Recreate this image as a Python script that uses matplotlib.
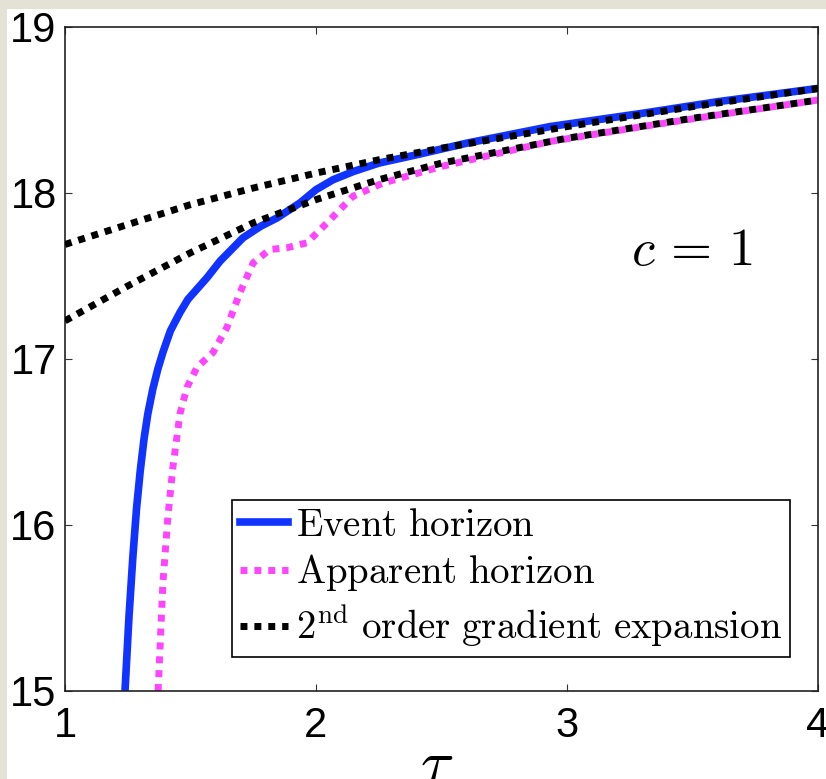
import matplotlib
matplotlib.use('Agg')
import matplotlib.pyplot as plt
from matplotlib.patches import Rectangle

plt.rcParams['mathtext.fontset'] = 'cm'
plt.rcParams['font.family'] = ['Liberation Sans', 'DejaVu Sans']

# event horizon
tau_event = [1.239, 1.255, 1.27, 1.285, 1.30, 1.315, 1.33, 1.35, 1.37, 1.39,
             1.42, 1.458, 1.49, 1.566, 1.618, 1.709, 1.78, 1.845, 1.936, 2.0,
             2.068, 2.15, 2.25, 2.4, 2.6, 2.932, 3.3, 3.6, 4.0]
r_event = [15.0, 15.45, 15.8, 16.1, 16.33, 16.52, 16.67, 16.82, 16.94, 17.04,
           17.17, 17.28, 17.36, 17.49, 17.59, 17.73, 17.80, 17.85, 17.94, 18.02,
           18.08, 18.13, 18.18, 18.23, 18.30, 18.40, 18.48, 18.55, 18.63]

# apparent horizon
tau_app = [1.371, 1.39, 1.41, 1.43, 1.458, 1.486, 1.526, 1.59, 1.645, 1.697,
           1.75, 1.817, 1.884, 1.964, 2.044, 2.147, 2.267, 2.5, 2.932, 3.3,
           3.6, 4.0]
r_app = [15.0, 15.65, 16.05, 16.35, 16.67, 16.83, 16.95, 17.04, 17.19, 17.40,
         17.58, 17.66, 17.67, 17.70, 17.82, 17.98, 18.06, 18.16, 18.31, 18.40,
         18.47, 18.56]

# 2nd order gradient expansion, event and apparent
tau_grad = [1.0, 1.25, 1.5, 1.75, 2.0, 2.25, 2.5, 3.0, 3.5, 4.0]
r_grad_ev = [17.69, 17.81, 17.93, 18.03, 18.12, 18.20, 18.27, 18.40, 18.52, 18.63]
r_grad_ap = [17.23, 17.44, 17.64, 17.82, 17.96, 18.08, 18.18, 18.33, 18.45, 18.56]

xticks = [1, 2, 3, 4]
yticks = [15, 16, 17, 18, 19]

W, H = 826, 779
fig = plt.figure(figsize=(W / 100, H / 100), dpi=100)
fig.patch.set_facecolor('#e4e2d4')
fig.patches.append(Rectangle((7 / W, 0), 1, 1 - 9 / H, transform=fig.transFigure,
                             facecolor='white', edgecolor='none', zorder=-5))

ax = fig.add_axes([65 / W, 1 - 691 / H, (818 - 65) / W, (691 - 27) / H])

dot = (0, (1, 1))
ax.plot(tau_event, r_event, color='#1133ff', lw=5.5, label='$\\mathrm{Event\\ horizon}$',
        zorder=2)
ax.plot(tau_app, r_app, color='#ff44ff', lw=5, ls=dot, dash_capstyle='butt',
        label='$\\mathrm{Apparent\\ horizon}$', zorder=2)
ax.plot(tau_grad, r_grad_ev, color='black', lw=5, ls=dot, dash_capstyle='butt',
        label='$\\mathrm{2^{nd}\\ order\\ gradient\\ expansion}$', zorder=3)
ax.plot(tau_grad, r_grad_ap, color='black', lw=5, ls=dot, dash_capstyle='butt',
        zorder=3)

ax.set_xlim(1, 4)
ax.set_ylim(15, 19)
ax.set_xticks(xticks)
ax.set_yticks(yticks)
ax.tick_params(direction='in', length=5, width=0.8, labelsize=30,
               top=True, right=True, color='#333333')
ax.tick_params(axis='x', pad=11)
ax.tick_params(axis='y', pad=6)
for s in ax.spines.values():
    s.set_linewidth(1.2)
    s.set_color('#222222')

ax.text(3.5, 17.65, r'$c\,=\,1$', fontsize=38, ha='center', va='center')

fig.text(437 / W, 1 - 738 / H, r'$\tau$', fontsize=44, ha='center', va='top')

leg = ax.legend(loc='lower left', bbox_to_anchor=(232 / W, 1 - 657 / H),
                bbox_transform=fig.transFigure, fontsize=28, handlelength=1.25,
                handletextpad=0.2, borderpad=0.2, labelspacing=0.22,
                fancybox=False, framealpha=1, borderaxespad=0)
leg.get_frame().set_edgecolor('black')
leg.get_frame().set_linewidth(1.2)

fig.savefig('out.png', dpi=100, facecolor=fig.get_facecolor())
